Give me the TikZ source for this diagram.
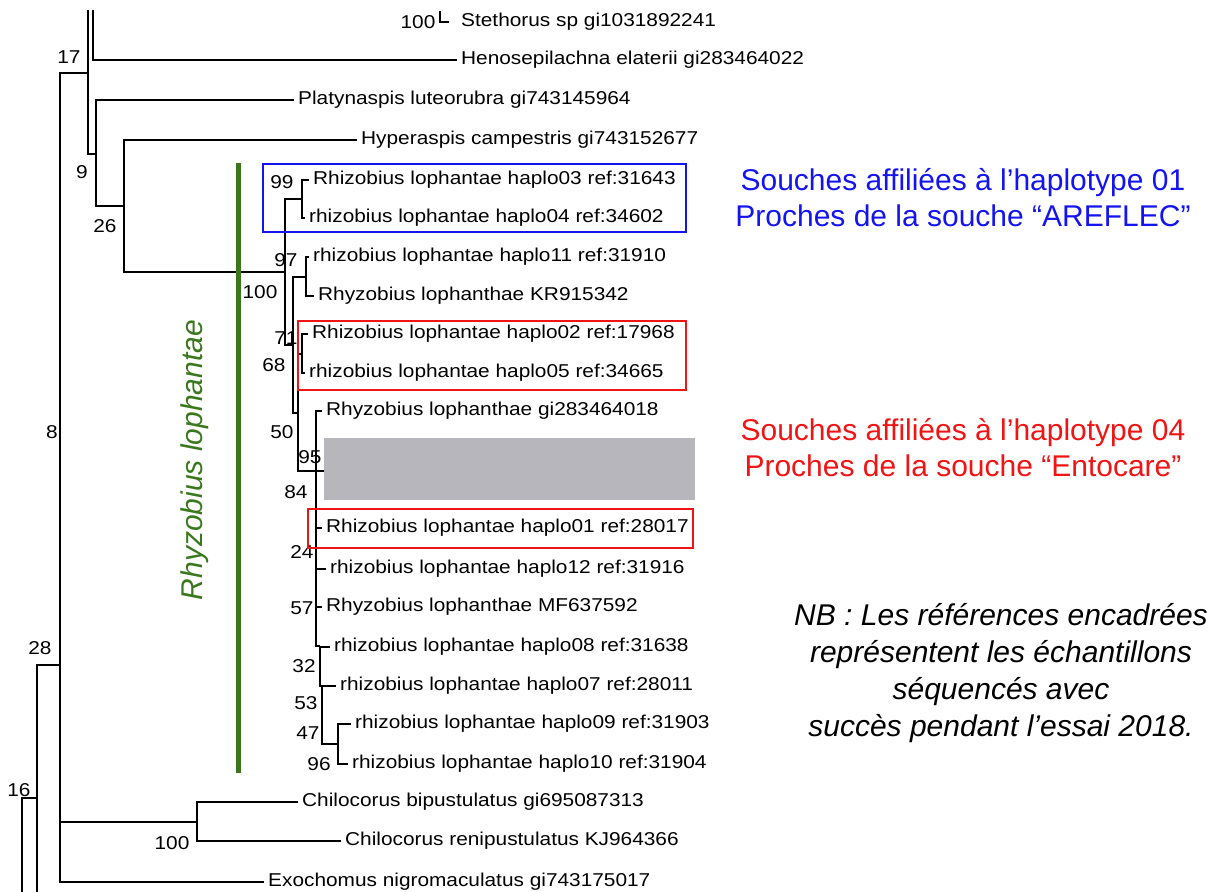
\documentclass[tikz,border=0pt]{standalone}
\usepackage{fontspec}
\setmainfont{Liberation Sans}
\newfontfamily\treefont[FakeStretch=1.12]{Liberation Sans}
\usepackage{xcolor}
\usepackage{tikz}

\definecolor{cladegreen}{RGB}{58,120,30}
\definecolor{maskgray}{RGB}{182,182,188}
\definecolor{boxblue}{RGB}{20,20,240}
\definecolor{boxred}{RGB}{240,20,20}

\begin{document}
\begin{tikzpicture}[
    x=1pt, y=-1pt,
    every node/.style={inner sep=0pt, font=\treefont\fontsize{18.6}{20}\selectfont},
    leaf/.style={anchor=west, inner xsep=4pt},
    boot/.style={anchor=center},
    branch/.style={line width=1.1pt},
    note/.style={font=\fontsize{30}{36}\selectfont, align=center}
  ]
  \useasboundingbox (0,0) rectangle (1219,892);

  \coordinate (top88) at (88,10);
  \coordinate (top93) at (93,10);
  \coordinate (topSte) at (440,11);
  \coordinate (bot22) at (22,892);
  \coordinate (bot37) at (37,892);
  \coordinate (n16) at (37,798);
  \coordinate (n28) at (60,665);
  \coordinate (n8) at (60,448);
  \coordinate (n17) at (88,73);
  \coordinate (n9) at (96,154);
  \coordinate (n26) at (124,206);
  \coordinate (nRl) at (285,272);
  \coordinate (n99) at (302,199);
  \coordinate (nA) at (293,345);
  \coordinate (n97) at (306,277);
  \coordinate (nB) at (298,413);
  \coordinate (n71) at (302,354);
  \coordinate (nC) at (316,471);
  \coordinate (nHid) at (340,471);
  \coordinate (nD) at (316,560);
  \coordinate (n32) at (320,646);
  \coordinate (n53) at (322,686);
  \coordinate (n96) at (338,744);
  \coordinate (nCh) at (197,822);

  \node[leaf, inner xsep=12pt] (tSte) at (449,22) {Stethorus sp gi1031892241};
  \node[leaf] (tHen) at (457,60) {Henosepilachna elaterii gi283464022};
  \node[leaf] (tPla) at (294,100) {Platynaspis luteorubra gi743145964};
  \node[leaf] (tHyp) at (357,140) {Hyperaspis campestris gi743152677};
  \node[leaf] (tH03) at (309,180) {Rhizobius lophantae haplo03 ref:31643};
  \node[leaf] (tH04) at (305,218) {rhizobius lophantae haplo04 ref:34602};
  \node[leaf] (tH11) at (309,257) {rhizobius lophantae haplo11 ref:31910};
  \node[leaf] (tKR) at (314,296) {Rhyzobius lophanthae KR915342};
  \node[leaf] (tH02) at (308,334) {Rhizobius lophantae haplo02 ref:17968};
  \node[leaf] (tH05) at (305,373) {rhizobius lophantae haplo05 ref:34665};
  \node[leaf] (tGi) at (322,411) {Rhyzobius lophanthae gi283464018};
  \node[leaf] (tH01) at (322,528) {Rhizobius lophantae haplo01 ref:28017};
  \node[leaf] (tH12) at (326,569) {rhizobius lophantae haplo12 ref:31916};
  \node[leaf] (tMF) at (322,607) {Rhyzobius lophanthae MF637592};
  \node[leaf] (tH08) at (330,647) {rhizobius lophantae haplo08 ref:31638};
  \node[leaf] (tH07) at (336,686) {rhizobius lophantae haplo07 ref:28011};
  \node[leaf] (tH09) at (351,724) {rhizobius lophantae haplo09 ref:31903};
  \node[leaf] (tH10) at (348,764) {rhizobius lophantae haplo10 ref:31904};
  \node[leaf] (tChB) at (298,802) {Chilocorus bipustulatus gi695087313};
  \node[leaf] (tChR) at (341,841) {Chilocorus renipustulatus KJ964366};
  \node[leaf] (tExo) at (264,882) {Exochomus nigromaculatus gi743175017};

  \draw[branch] (bot22) |- (n16);
  \draw[branch] (bot37) -- (n16) |- (n28);
  \draw[branch] (n28) |- (n8);
  \draw[branch] (n28) |- (tExo.west);
  \draw[branch] (n8) |- (n17);
  \draw[branch] (n8) |- (nCh);
  \draw[branch] (nCh) |- (tChB.west);
  \draw[branch] (nCh) |- (tChR.west);
  \draw[branch] (top88) -- (n17) |- (n9);
  \draw[branch] (top93) |- (tHen.west);
  \draw[branch] (topSte) |- (tSte.west);
  \draw[branch] (n9) |- (tPla.west);
  \draw[branch] (n9) |- (n26);
  \draw[branch] (n26) |- (tHyp.west);
  \draw[branch] (n26) |- (nRl);
  \draw[branch] (nRl) |- (n99);
  \draw[branch] (nRl) |- (nA);
  \draw[branch] (n99) |- (tH03.west);
  \draw[branch] (n99) |- (tH04.west);
  \draw[branch] (nA) |- (n97);
  \draw[branch] (nA) |- (nB);
  \draw[branch] (n97) |- (tH11.west);
  \draw[branch] (n97) |- (tKR.west);
  \draw[branch] (nB) |- (n71);
  \draw[branch] (nB) |- (nC);
  \draw[branch] (n71) |- (tH02.west);
  \draw[branch] (n71) |- (tH05.west);
  \draw[branch] (nC) |- (tGi.west);
  \draw[branch] (nC) -- (nHid);
  \draw[branch] (nC) -- (nD);
  \draw[branch] (nD) |- (tH01.west);
  \draw[branch] (nD) |- (tH12.west);
  \draw[branch] (nD) |- (tMF.west);
  \draw[branch] (nD) |- (n32);
  \draw[branch] (n32) |- (tH08.west);
  \draw[branch] (n32) |- (n53);
  \draw[branch] (n53) |- (tH07.west);
  \draw[branch] (n53) |- (n96);
  \draw[branch] (n96) |- (tH09.west);
  \draw[branch] (n96) |- (tH10.west);

  \node[boot] (bSte) at (418,22) {100};
  \node[boot] (b17) at (69,57) {17};
  \node[boot] (b9) at (82,172) {9};
  \node[boot] (b26) at (105,226) {26};
  \node[boot] (bRl) at (260,292) {100};
  \node[boot] (b99) at (282,182) {99};
  \node[boot] (b97) at (286,260) {97};
  \node[boot] (b71) at (286,338) {71};
  \node[boot] (b68) at (274,365) {68};
  \node[boot] (b50) at (282,432) {50};
  \node[boot] (b95) at (310,457) {95};
  \node[boot] (b84) at (296,492) {84};
  \node[boot] (b24) at (302,552) {24};
  \node[boot] (b57) at (302,608) {57};
  \node[boot] (b32) at (304,666) {32};
  \node[boot] (b53) at (306,703) {53};
  \node[boot] (b47) at (308,733) {47};
  \node[boot] (b96) at (319,764) {96};
  \node[boot] (bCh) at (172,843) {100};
  \node[boot] (b8) at (52,432) {8};
  \node[boot] (b28) at (40,648) {28};
  \node[boot] (b16) at (19,790) {16};

  \draw[boxblue, line width=2pt] (263,164) rectangle (686,232);
  \draw[boxred, line width=2pt] (298,321) rectangle (686,390);
  \draw[boxred, line width=2pt] (308,509) rectangle (693,548);
  \fill[maskgray] (324,438) rectangle (695,500);

  \draw[cladegreen, line width=5pt] (238,163) -- (238,773);
  \node[rotate=90, text=cladegreen, font=\itshape\fontsize{30}{36}\selectfont] (clade) at (195,460) {Rhyzobius lophantae};

  \node[note, text=boxblue] (hap01) at (963,198) {Souches affiliées à l’haplotype 01\\Proches de la souche “AREFLEC”};
  \node[note, text=boxred] (hap04) at (963,448) {Souches affiliées à l’haplotype 04\\Proches de la souche “Entocare”};
  \node[note, font=\itshape\fontsize{30}{37}\selectfont] (nb) at (1001,673) {NB : Les références encadrées\\représentent les échantillons\\séquencés avec\\succès pendant l’essai 2018.};
\end{tikzpicture}
\end{document}
